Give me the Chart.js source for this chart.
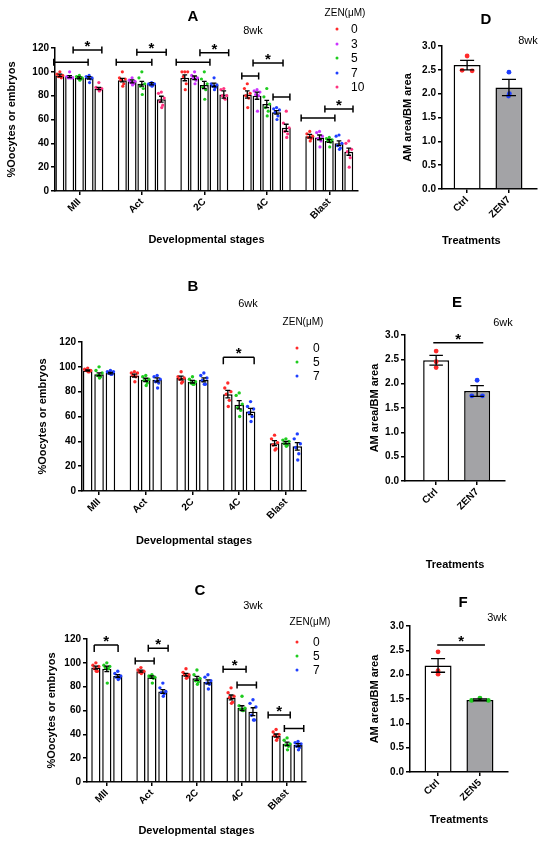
<!DOCTYPE html>
<html>
<head>
<meta charset="utf-8">
<script src="https://cdn.jsdelivr.net/npm/chart.js@4.4.1/dist/chart.umd.min.js"></script>
<style>
html, body { margin: 0; padding: 0; background: #fff; }
#fig { position: relative; width: 550px; height: 841px; overflow: hidden; background: #fff;
       font-family: "Liberation Sans", Arial, sans-serif; color: #000; }
#fig canvas { position: absolute; }
.lbl { position: absolute; transform: translate(-50%, -50%); white-space: nowrap; line-height: 1; }
.panel { font-weight: bold; font-size: 15px; }
.wk { font-size: 11px; }
.zen { font-size: 10px; }
.leg { position: absolute; font-size: 12px; line-height: 1; transform: translateY(-50%); }
.dot { position: absolute; width: 3px; height: 3px; border-radius: 50%; transform: translate(-50%, -50%); }
</style>
</head>
<body>
<div id="fig">
  <canvas id="cA" width="378" height="262" style="left:0;top:0"></canvas>
  <canvas id="cB" width="340" height="285" style="left:0;top:270px"></canvas>
  <canvas id="cC" width="340" height="281" style="left:0;top:560px"></canvas>
  <canvas id="cD" width="170" height="262" style="left:380px;top:0"></canvas>
  <canvas id="cE" width="190" height="310" style="left:360px;top:270px"></canvas>
  <canvas id="cF" width="190" height="251" style="left:360px;top:590px"></canvas>
</div>
<script>
// Values
const stages = ['MII', 'Act', '2C', '4C', 'Blast'];

// A - 8wk, ZEN 0 / 3 / 5 / 7 / 10 uM (one row per group, one column per stage)
const groupsA = ['0', '3', '5', '7', '10'];
const meanA = [
    [97, 93, 95, 81, 46],
    [96, 92, 95, 80, 45],
    [95, 90, 89, 73, 42],
    [95, 90, 89, 66, 40],
    [86, 77, 81, 53, 33]
];
const semA = [
    [1, 1.5, 2.5, 3, 1.5],
    [0.8, 1.2, 1.5, 3, 2],
    [0.8, 2, 3, 3, 1.2],
    [1, 1, 1.5, 1.5, 2],
    [1, 2.5, 3, 3, 3]
];
const ptsA = [
    [[100, 98, 97, 96, 95, 96], [100, 95, 94, 93, 90, 88], [100, 100, 100, 96, 90, 85], [90, 86, 82, 80, 78, 70], [50, 48, 46, 45, 44, 42]],
    [[100, 96, 95, 95, 95, 95], [95, 93, 92, 91, 90, 89], [100, 97, 95, 95, 93, 90], [85, 84, 83, 81, 80, 67], [50, 49, 46, 44, 42, 37]],
    [[97, 96, 95, 95, 94, 93], [100, 95, 90, 88, 86, 81], [100, 94, 90, 87, 85, 77], [86, 79, 73, 70, 67, 63], [45, 44, 43, 42, 41, 37]],
    [[97, 96, 95, 95, 94, 91], [91, 90, 90, 89, 89, 88], [95, 90, 89, 88, 87, 85], [70, 69, 68, 66, 63, 60], [47, 46, 40, 38, 36, 35]],
    [[91, 87, 86, 86, 85, 84], [83, 82, 78, 75, 72, 70], [86, 85, 80, 80, 77, 78], [67, 57, 53, 50, 48, 45], [42, 40, 35, 33, 28, 20]]
];
// [stage, from, to, y, ends, star]
const sigA = [
    [0, -0.41, 0.14, 108, 'both', false], [0, -0.10, 0.36, 118.3, 'both', true],
    [1, -0.41, 0.16, 108, 'both', false], [1, -0.08, 0.39, 116.4, 'both', true],
    [2, -0.45, 0.09, 108, 'both', false], [2, -0.07, 0.39, 116, 'both', true],
    [3, -0.40, -0.13, 96.5, 'both', false], [3, -0.22, 0.26, 107.4, 'both', true], [3, 0.10, 0.37, 78.9, 'both', false],
    [4, -0.45, 0.09, 61.3, 'both', false], [4, -0.07, 0.38, 68.8, 'both', true]
];

// B - 6wk, ZEN 0 / 5 / 7 uM
const groupsBC = ['0', '5', '7'];
const meanB = [
    [97, 93, 91, 78, 38.5],
    [94, 89.5, 88, 69.5, 39],
    [95, 89.5, 89.5, 64, 36]
];
const semB = [
    [0.5, 1.2, 1.5, 3, 2],
    [1.2, 1.3, 1, 3.3, 1],
    [0.6, 1.6, 1.6, 2.5, 3]
];
const ptsB = [
    [[99, 98, 97, 97, 96, 96], [96, 95, 95, 93, 92, 88], [96, 92, 91, 90, 88, 87], [87, 83, 80, 78, 73, 68], [45, 42, 39, 37, 34, 33]],
    [[100, 97, 95, 93, 92, 91], [93, 92, 90, 89, 87, 85], [92, 90, 88, 87, 86, 86], [79, 77, 70, 67, 65, 60], [42, 41, 40, 38, 37, 36]],
    [[97, 96, 96, 95, 94, 94], [93, 92, 90, 88, 87, 83], [95, 93, 91, 89, 86, 86], [72, 68, 66, 63, 60, 56], [46, 42, 38, 35, 30, 25]]
];
const sigB = [
    [3, -0.34, 0.32, 107.7, 'down', true]
];

// C - 3wk, ZEN 0 / 5 / 7 uM
const meanC = [
    [96, 93, 90, 71, 39],
    [95, 88, 87, 62, 32],
    [89, 76, 84, 59, 31]
];
const semC = [
    [1.2, 0.8, 1.2, 2, 1.3],
    [2.3, 1.1, 1.7, 2, 1.4],
    [1.1, 1.6, 1.7, 3.3, 1.2]
];
const ptsC = [
    [[100, 98, 97, 95, 93, 93], [96, 94, 93, 92, 92, 91], [95, 92, 90, 90, 88, 87], [79, 75, 72, 71, 67, 66], [44, 42, 40, 39, 37, 35]],
    [[100, 98, 97, 96, 95, 83], [90, 89, 88, 88, 87, 83], [94, 90, 87, 85, 84, 82], [72, 64, 62, 61, 60, 60], [37, 35, 32, 31, 30, 27]],
    [[93, 91, 89, 88, 87, 86], [83, 79, 76, 75, 74, 72], [90, 88, 85, 83, 82, 78], [69, 66, 63, 56, 52, 52], [34, 33, 32, 30, 29, 27]]
];
const sigC = [
    [0, -0.28, 0.25, 115, 'down', true],
    [1, -0.37, 0.05, 101.5, 'both', false], [1, -0.08, 0.36, 112.2, 'both', true],
    [3, -0.42, 0.09, 94.6, 'both', true], [3, -0.11, 0.32, 81.4, 'both', false],
    [4, -0.42, 0.07, 56.2, 'both', true], [4, -0.06, 0.37, 45, 'both', false]
];

// D / E / F - AM area / BM area
const treatD = ['Ctrl', 'ZEN7'];
const meanD = [2.6, 2.13];
const semD = [0.1, 0.17];
const ptsD = [[2.79, 2.49, 2.48], [2.45, 2.0, 1.95]];

const treatE = ['Ctrl', 'ZEN7'];
const meanE = [2.48, 1.85];
const semE = [0.1, 0.11];
const ptsE = [[2.67, 2.45, 2.33], [2.07, 1.75, 1.75]];

const treatF = ['Ctrl', 'ZEN5'];
const meanF = [2.19, 1.48];
const semF = [0.14, 0.02];
const ptsF = [[2.47, 2.08, 2.01], [1.47, 1.52, 1.47]];

// Colours
const colorsA = ['#ff2a2a', '#cc33ff', '#1fcc1f', '#1f3fff', '#ff3380'];
const colorsBC = ['#ff2a2a', '#1fcc1f', '#1f3fff'];
const RED = '#ff2a2a', GREEN = '#1fcc1f', BLUE = '#1f3fff';

// horizontal spread of the dots inside a bar (fraction of bar width)
const jitter = [0, -0.32, 0.32, -0.16, 0.16, 0.05];

Chart.defaults.font.family = '"Liberation Sans", Arial, sans-serif';
Chart.defaults.color = '#000';

// SEM whiskers on top of every bar dataset that carries a "sem" array
const errorBars = {
    id: 'errorBars',
    afterDatasetsDraw(chart) {
        const ctx = chart.ctx;
        const y = chart.scales.y;
        chart.data.datasets.forEach((ds, di) => {
            if (!ds.sem) return;
            chart.getDatasetMeta(di).data.forEach((bar, i) => {
                const { x, width } = bar.getProps(['x', 'width'], true);
                const v = ds.data[i].y, e = ds.sem[i];
                const top = y.getPixelForValue(v + e);
                const bot = y.getPixelForValue(v - e);
                const half = width * 0.26;
                ctx.save();
                ctx.strokeStyle = '#000';
                ctx.lineWidth = 1.3;
                ctx.beginPath();
                ctx.moveTo(x, top); ctx.lineTo(x, bot);
                ctx.moveTo(x - half, top); ctx.lineTo(x + half, top);
                ctx.moveTo(x - half, bot); ctx.lineTo(x + half, bot);
                ctx.stroke();
                ctx.restore();
            });
        });
    }
};

// significance brackets and stars
const sigMarks = {
    id: 'sigMarks',
    afterDraw(chart, args, opts) {
        const { ctx, scales: { x, y } } = chart;
        (opts.marks || []).forEach(m => {
            const x1 = x.getPixelForValue(m.x1);
            const x2 = x.getPixelForValue(m.x2);
            const py = y.getPixelForValue(m.y);
            ctx.save();
            ctx.strokeStyle = '#000';
            ctx.lineWidth = 1.5;
            ctx.beginPath();
            ctx.moveTo(x1, py); ctx.lineTo(x2, py);
            if (m.ends === 'both') {
                ctx.moveTo(x1, py - 3.5); ctx.lineTo(x1, py + 3.5);
                ctx.moveTo(x2, py - 3.5); ctx.lineTo(x2, py + 3.5);
            } else if (m.ends === 'down') {
                ctx.moveTo(x1, py); ctx.lineTo(x1, py + 7);
                ctx.moveTo(x2, py); ctx.lineTo(x2, py + 7);
            }
            ctx.stroke();
            if (m.star) {
                ctx.fillStyle = '#000';
                ctx.font = 'bold 15px "Liberation Sans", Arial, sans-serif';
                ctx.textAlign = 'center';
                ctx.textBaseline = 'alphabetic';
                ctx.fillText('*', (x1 + x2) / 2, py + 1);
            }
            ctx.restore();
        });
    }
};

function baseOptions(cfg, marks) {
    const axisFont = { size: 10, weight: 'bold' };
    const titleFont = { size: 11, weight: 'bold' };
    const border = { color: '#000', width: 1.5 };
    return {
        responsive: false,
        animation: false,
        layout: { padding: { left: 0, top: cfg.padT, right: cfg.padR, bottom: 0 } },
        plugins: {
            legend: { display: false },
            tooltip: { enabled: false },
            sigMarks: { marks }
        },
        scales: {
            x: {
                type: 'linear',
                offset: false,
                bounds: 'data',
                min: cfg.xmin,
                max: cfg.xmax,
                afterBuildTicks: s => { s.ticks = cfg.labels.map((_, i) => ({ value: i })); },
                afterFit: s => { s.height = cfg.xh; },
                ticks: {
                    autoSkip: false, maxRotation: 45, minRotation: 45, padding: 1,
                    color: '#000', font: axisFont,
                    callback: v => cfg.labels[v]
                },
                grid: { offset: false, drawOnChartArea: false, tickLength: 4, color: '#000', lineWidth: 1.5 },
                border,
                title: {
                    display: true, text: cfg.xTitle, align: cfg.xAlign || 'center',
                    color: '#000', font: titleFont, padding: { top: 0, bottom: cfg.xtPad }
                }
            },
            y: {
                min: 0,
                max: cfg.ymax,
                afterFit: s => { s.width = cfg.yw; },
                ticks: {
                    stepSize: cfg.step, padding: 2, color: '#000', font: axisFont,
                    callback: cfg.yfmt || (v => v)
                },
                grid: { drawOnChartArea: false, tickLength: 4, color: '#000', lineWidth: 1.5 },
                border,
                title: {
                    display: true, text: cfg.yTitle, color: '#000', font: titleFont,
                    padding: { top: cfg.ytPad, bottom: 0 }
                }
            }
        }
    };
}

// grouped bars (A, B, C): one bar dataset per ZEN dose plus its dots
function groupedChart(id, cfg) {
    const k = cfg.means.length;
    const slot = cfg.cp / k;
    const centre = (i, j) => i - cfg.cp / 2 + (j + 0.5) * slot;
    const datasets = [];
    cfg.means.forEach((m, j) => {
        datasets.push({
            type: 'bar', order: 2,
            data: m.map((v, i) => ({ x: i, y: v })),
            sem: cfg.sems[j],
            backgroundColor: '#fff', borderColor: '#000', borderWidth: 1.5,
            categoryPercentage: cfg.cp, barPercentage: cfg.bp
        });
    });
    cfg.points.forEach((byStage, j) => {
        const data = [];
        byStage.forEach((vals, i) => {
            vals.forEach((v, n) => {
                data.push({ x: centre(i, j) + jitter[n % jitter.length] * slot * cfg.bp, y: v });
            });
        });
        datasets.push({
            type: 'scatter', order: 1, data,
            pointRadius: cfg.r, pointBackgroundColor: cfg.colors[j], pointBorderWidth: 0
        });
    });
    const marks = cfg.sig.map(s => ({ x1: s[0] + s[1], x2: s[0] + s[2], y: s[3], ends: s[4], star: s[5] }));
    return new Chart(document.getElementById(id), {
        type: 'bar',
        data: { datasets },
        options: baseOptions(cfg, marks),
        plugins: [errorBars, sigMarks]
    });
}

// two-bar charts (D, E, F)
function ratioChart(id, cfg) {
    const datasets = [{
        type: 'bar', order: 2,
        data: cfg.means.map((v, i) => ({ x: i, y: v })),
        sem: cfg.sems,
        backgroundColor: ['#ffffff', '#a3a3a6'], borderColor: '#000', borderWidth: 1.5,
        categoryPercentage: 1, barPercentage: cfg.bp
    }];
    cfg.points.forEach((vals, i) => {
        datasets.push({
            type: 'scatter', order: 1,
            data: vals.map((v, n) => ({ x: i + cfg.jit[i][n], y: v })),
            pointRadius: 2.4, pointBackgroundColor: cfg.colors[i], pointBorderWidth: 0
        });
    });
    const marks = (cfg.sig || []).map(s => ({ x1: s[0], x2: s[1], y: s[2], ends: 'none', star: true }));
    return new Chart(document.getElementById(id), {
        type: 'bar',
        data: { datasets },
        options: baseOptions(Object.assign({ ymax: 3, step: 0.5, yfmt: v => v.toFixed(1) }, cfg), marks),
        plugins: [errorBars, sigMarks]
    });
}

const stageTitle = 'Developmental stages';
const pctTitle = '%Oocytes or embryos';
const ratioTitle = 'AM area/BM area';

groupedChart('cA', {
    labels: stages, means: meanA, sems: semA, points: ptsA, colors: colorsA, sig: sigA,
    cp: 0.78, bp: 0.92, r: 1.6, xmin: -0.39, xmax: 4.46, ymax: 120, step: 20,
    yw: 55, xh: 71, padT: 48, padR: 20, xtPad: 15.4, ytPad: 5.4,
    xTitle: stageTitle, yTitle: pctTitle
});
groupedChart('cB', {
    labels: stages, means: meanB, sems: semB, points: ptsB, colors: colorsBC, sig: sigB,
    cp: 0.73, bp: 0.84, r: 1.7, xmin: -0.365, xmax: 4.43, ymax: 120, step: 20,
    yw: 82, xh: 64, padT: 72, padR: 34, xtPad: 7.4, ytPad: 36.4,
    xTitle: stageTitle, yTitle: pctTitle
});
groupedChart('cC', {
    labels: stages, means: meanC, sems: semC, points: ptsC, colors: colorsBC, sig: sigC,
    cp: 0.73, bp: 0.84, r: 1.7, xmin: -0.44, xmax: 4.42, ymax: 120, step: 20,
    yw: 87, xh: 59, padT: 79, padR: 34, xtPad: 3.4, ytPad: 45.4,
    xTitle: stageTitle, yTitle: pctTitle
});

ratioChart('cD', {
    labels: treatD, means: meanD, sems: semD, points: ptsD, colors: [RED, BLUE],
    jit: [[0, -0.12, 0.12], [0, 0.01, -0.01]],
    bp: 0.645, xmin: -0.6, xmax: 1.67,
    yw: 62, xh: 73, padT: 46, padR: 13, xtPad: 14.4, ytPad: 21.4, xAlign: 'start',
    xTitle: 'Treatments', yTitle: ratioTitle
});
ratioChart('cE', {
    labels: treatE, means: meanE, sems: semE, points: ptsE, colors: [RED, BLUE],
    jit: [[0, 0, 0], [0, -0.13, 0.13]], sig: [[-0.07, 1.15, 2.84]],
    bp: 0.634, xmin: -0.76, xmax: 1.68,
    yw: 45, xh: 99, padT: 65, padR: 45, xtPad: 8.4, ytPad: 8.4,
    xTitle: 'Treatments', yTitle: ratioTitle
});
ratioChart('cF', {
    labels: treatF, means: meanF, sems: semF, points: ptsF, colors: [RED, GREEN],
    jit: [[0, 0, 0], [-0.2, 0, 0.2]], sig: [[-0.02, 1.12, 2.61]],
    bp: 0.645, xmin: -0.67, xmax: 1.67,
    yw: 50, xh: 69, padT: 36, padR: 42, xtPad: 14.4, ytPad: 8.4,
    xTitle: 'Treatments', yTitle: ratioTitle
});

// panel letters, ages and the ZEN legends
const fig = document.getElementById('fig');
function addText(text, x, y, cls) {
    const d = document.createElement('div');
    d.className = 'lbl ' + cls;
    d.textContent = text;
    d.style.left = x + 'px';
    d.style.top = y + 'px';
    fig.appendChild(d);
}
function addLegend(groups, colors, dotX, textX, y0, dy) {
    groups.forEach((g, n) => {
        const y = y0 + n * dy;
        const dot = document.createElement('div');
        dot.className = 'dot';
        dot.style.left = dotX + 'px';
        dot.style.top = y + 'px';
        dot.style.background = colors[n];
        fig.appendChild(dot);
        const t = document.createElement('div');
        t.className = 'leg';
        t.textContent = g;
        t.style.left = textX + 'px';
        t.style.top = y + 'px';
        fig.appendChild(t);
    });
}

addText('A', 193, 15, 'panel');
addText('8wk', 253, 30, 'wk');
addText('ZEN(μM)', 345, 13, 'zen');
addLegend(groupsA, colorsA, 337, 351, 29, 14.6);

addText('B', 193, 285, 'panel');
addText('6wk', 248, 303, 'wk');
addText('ZEN(μM)', 303, 322, 'zen');
addLegend(groupsBC, colorsBC, 297, 313, 348, 14);

addText('C', 200, 589, 'panel');
addText('3wk', 253, 605, 'wk');
addText('ZEN(μM)', 310, 622, 'zen');
addLegend(groupsBC, colorsBC, 297, 313, 642, 14);

addText('D', 486, 18, 'panel');
addText('8wk', 528, 40, 'wk');
addText('E', 457, 301, 'panel');
addText('6wk', 503, 322, 'wk');
addText('F', 463, 601, 'panel');
addText('3wk', 497, 617, 'wk');
</script>
</body>
</html>
